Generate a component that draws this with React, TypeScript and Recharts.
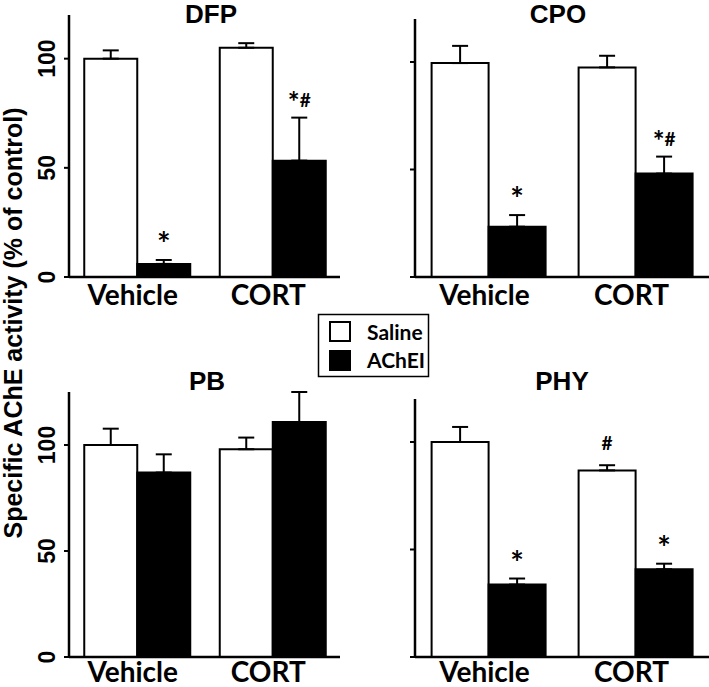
import React from 'react';
import { BarChart, Bar, XAxis, YAxis, ErrorBar, LabelList } from 'recharts';

// treatment groups on the x axis
const categories = ['Vehicle', 'CORT'];

// DFP
const dfpSaline = [100, 105];
const dfpSalineErr = [3.8, 2.1];
const dfpAchei = [6, 53.3];
const dfpAcheiErr = [1.8, 19.7];
const dfpSalineNotes = ['', ''];
const dfpAcheiNotes = ['*', '*#'];

// CPO
const cpoSaline = [99.5, 97.5];
const cpoSalineErr = [8, 5.4];
const cpoAchei = [23.4, 48.1];
const cpoAcheiErr = [5.4, 7.9];
const cpoSalineNotes = ['', ''];
const cpoAcheiNotes = ['*', '*#'];

// PB
const pbSaline = [100, 98];
const pbSalineErr = [7.7, 5.5];
const pbAchei = [87, 110.8];
const pbAcheiErr = [8.6, 14.2];
const pbSalineNotes = ['', ''];
const pbAcheiNotes = ['', ''];

// PHY
const phySaline = [100, 86.8];
const phySalineErr = [7, 2.4];
const phyAchei = [33.7, 40.8];
const phyAcheiErr = [2.8, 2.6];
const phySalineNotes = ['', '#'];
const phyAcheiNotes = ['*', '*'];

const yTicks = [0, 50, 100];

const ARIAL = '"Liberation Sans", Arial, sans-serif';
const CALIBRI = 'Lato, "Open Sans", sans-serif';

const buildRows = (s: number[], se: number[], a: number[], ae: number[], sn: string[], an: string[]) =>
  categories.map((name, i) => ({
    name,
    saline: s[i],
    salineErr: [0, se[i]],
    salineNote: sn[i],
    achei: a[i],
    acheiErr: [0, ae[i]],
    acheiNote: an[i],
  }));

// note drawn above the top of the error bar
const noteRenderer = (vals: number[], errs: number[]) => (props: any) => {
  const vb = props.viewBox || props;
  const { x, y, width, height } = vb;
  const idx = props.index;
  const text: string = props.value;
  if (!text) return null;
  const perUnit = height / vals[idx];
  const errTop = y - errs[idx] * perUnit;
  const combo = text.length > 1;
  const base = text === '#' ? errTop - 15 : combo ? errTop - 11 : errTop - 4;
  return (
    <text x={x + width / 2} y={base} textAnchor="middle" fontFamily={CALIBRI} fontWeight={700} fill="#000">
      {text.split('').map((ch, i) => (
        <tspan
          key={i}
          fontSize={ch === '*' ? (combo ? 28 : 32) : 19}
          dy={combo ? (ch === '*' ? 5 : -5) : 0}
        >
          {ch}
        </tspan>
      ))}
    </text>
  );
};

const makeXTick = (dy: number) => (props: any) => {
  const { x, y, payload } = props;
  return (
    <text x={x - 4} y={y + dy} textAnchor="middle" fontFamily={CALIBRI} fontWeight={700} fontSize={28} fill="#000">
      {payload.value}
    </text>
  );
};

const makeYTick = (show: boolean) => (props: any) => {
  const { x, y, payload } = props;
  if (!show) return <g />;
  return (
    <text x={x} y={y} transform={`rotate(-90 ${x} ${y})`} textAnchor="middle" fontFamily={ARIAL} fontWeight={700} fontSize={23} fill="#000">
      {payload.value}
    </text>
  );
};

interface PanelProps {
  title: string;
  saline: number[];
  salineErr: number[];
  achei: number[];
  acheiErr: number[];
  salineNotes: string[];
  acheiNotes: string[];
  yMax: number;
  left: number;
  top: number;
  width: number;
  height: number;
  plotTop: number;
  axisWidth: number;
  xAxisHeight: number;
  labelDy: number;
  gap: number;
  showTicks: boolean;
  titleX: number;
  titleY: number;
}

const Panel: React.FC<PanelProps> = (p) => {
  const data = buildRows(p.saline, p.salineErr, p.achei, p.acheiErr, p.salineNotes, p.acheiNotes);
  return (
    <div style={{ position: 'absolute', left: p.left, top: p.top }}>
      <div
        style={{
          position: 'absolute',
          left: p.titleX - 60,
          top: p.titleY,
          width: 120,
          textAlign: 'center',
          fontFamily: ARIAL,
          fontWeight: 700,
          fontSize: 26,
          lineHeight: '26px',
        }}
      >
        {p.title}
      </div>
      <BarChart
        width={p.width}
        height={p.height}
        data={data}
        margin={{ top: p.plotTop, right: 0, bottom: 0, left: 0 }}
        barCategoryGap={p.gap}
        barGap={0}
      >
        <XAxis
          dataKey="name"
          height={p.xAxisHeight}
          axisLine={{ stroke: '#000', strokeWidth: 2.5 }}
          tickLine={false}
          tickSize={0}
          tickMargin={0}
          tick={makeXTick(p.labelDy)}
          interval={0}
        />
        <YAxis
          width={p.axisWidth}
          domain={[0, p.yMax]}
          ticks={yTicks}
          allowDataOverflow
          axisLine={{ stroke: '#000', strokeWidth: 2.5 }}
          tickLine={{ stroke: '#000', strokeWidth: 2 }}
          tickSize={5}
          tickMargin={9}
          tick={makeYTick(p.showTicks)}
        />
        <Bar dataKey="saline" fill="#fff" stroke="#000" strokeWidth={2} isAnimationActive={false}>
          <ErrorBar dataKey="salineErr" width={8} stroke="#000" strokeWidth={2} direction="y" />
          <LabelList dataKey="salineNote" content={noteRenderer(p.saline, p.salineErr)} />
        </Bar>
        <Bar dataKey="achei" fill="#000" stroke="#000" strokeWidth={2} isAnimationActive={false}>
          <ErrorBar dataKey="acheiErr" width={8} stroke="#000" strokeWidth={2} direction="y" />
          <LabelList dataKey="acheiNote" content={noteRenderer(p.achei, p.acheiErr)} />
        </Bar>
      </BarChart>
    </div>
  );
};

export default function App() {
  return (
    <div style={{ position: 'absolute', left: 0, top: 0, width: 709, height: 687, overflow: 'hidden', background: '#fff' }}>
      <Panel
        title="DFP" saline={dfpSaline} salineErr={dfpSalineErr} achei={dfpAchei} acheiErr={dfpAcheiErr}
        salineNotes={dfpSalineNotes} acheiNotes={dfpAcheiNotes} yMax={120}
        left={0} top={0} width={340} height={320} plotTop={15} axisWidth={69} xAxisHeight={43} labelDy={28}
        gap={15.25} showTicks titleX={211} titleY={1}
      />
      <Panel
        title="CPO" saline={cpoSaline} salineErr={cpoSalineErr} achei={cpoAchei} acheiErr={cpoAcheiErr}
        salineNotes={cpoSalineNotes} acheiNotes={cpoAcheiNotes} yMax={120}
        left={349} top={0} width={360} height={320} plotTop={19} axisWidth={66} xAxisHeight={43} labelDy={28}
        gap={16.6} showTicks={false} titleX={209} titleY={1}
      />
      <Panel
        title="PB" saline={pbSaline} salineErr={pbSalineErr} achei={pbAchei} acheiErr={pbAcheiErr}
        salineNotes={pbSalineNotes} acheiNotes={pbAcheiNotes} yMax={125}
        left={0} top={330} width={340} height={370} plotTop={62} axisWidth={69} xAxisHeight={43} labelDy={25}
        gap={15.25} showTicks titleX={207} titleY={38}
      />
      <Panel
        title="PHY" saline={phySaline} salineErr={phySalineErr} achei={phyAchei} acheiErr={phyAcheiErr}
        salineNotes={phySalineNotes} acheiNotes={phyAcheiNotes} yMax={120}
        left={349} top={330} width={360} height={370} plotTop={69} axisWidth={66} xAxisHeight={43} labelDy={25}
        gap={16.6} showTicks={false} titleX={213} titleY={38}
      />
      <svg width={709} height={687} style={{ position: 'absolute', left: 0, top: 0, pointerEvents: 'none' }}>
        <text
          x={0}
          y={0}
          transform="translate(22 323) rotate(-90)"
          textAnchor="middle"
          fontFamily={ARIAL}
          fontWeight={700}
          fontSize={25}
          fill="#000"
        >
          Specific AChE activity (% of control)
        </text>
        <rect x={318.5} y={314.5} width={110} height={62} fill="#fff" stroke="#000" strokeWidth={1.5} />
        <rect x={330} y={322} width={20} height={19} fill="#fff" stroke="#000" strokeWidth={2} />
        <rect x={330} y={351} width={20} height={19} fill="#000" stroke="#000" strokeWidth={2} />
        <text x={367} y={340} fontFamily={CALIBRI} fontWeight={700} fontSize={21} fill="#000">Saline</text>
        <text x={367} y={368} fontFamily={CALIBRI} fontWeight={700} fontSize={21} fill="#000">AChEI</text>
      </svg>
    </div>
  );
}
